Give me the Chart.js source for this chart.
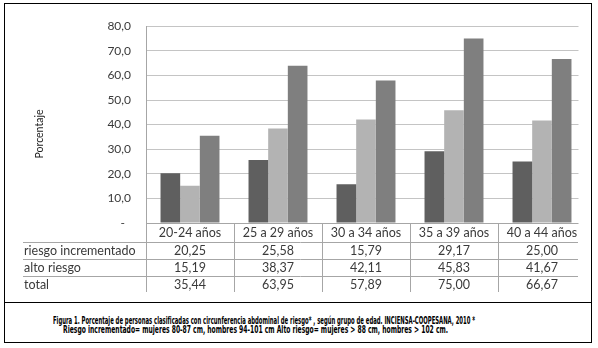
<!DOCTYPE html>
<html lang="es">
<head>
<meta charset="UTF-8">
<title>Circunferencia abdominal de riesgo por grupo de edad</title>
<script src="https://cdn.jsdelivr.net/npm/chart.js"></script>
<style>
    body {
        margin: 0;
        background: #fff;
        width: 598px;
        height: 348px;
        position: relative;
        overflow: hidden;
    }
    .box {
        position: absolute;
        left: 4px;
        top: 3px;
        width: 586px;
        height: 298px;
        border: 1px solid #000;
    }
    .chart-wrap {
        position: relative;
        width: 586px;
        height: 298px;
    }
    .caption {
        position: absolute;
        left: 4px;
        top: 302px;
        width: 586px;
        height: 40px;
        border: 1px solid #000;
        border-top: none;
    }
    .cap-line {
        position: absolute;
        white-space: nowrap;
        font-family: "Liberation Sans Narrow", "DejaVu Sans Condensed", sans-serif;
        font-weight: bold;
        font-size: 10.5px;
        line-height: 10px;
        color: #000;
        transform-origin: 0 50%;
        -webkit-font-smoothing: antialiased;
    }
</style>
</head>
<body>
<div class="box">
    <div class="chart-wrap"><canvas id="chart"></canvas></div>
</div>
<div class="caption">
    <span class="cap-line" data-w="422" style="left:48px; top:13px;">Figura 1. Porcentaje de personas clasificadas con circunferencia abdominal de riesgo* , según grupo de edad. INCIENSA-COOPESANA, 2010 *</span>
    <span class="cap-line" data-w="385" style="left:58px; top:22px;">Riesgo incrementado= mujeres 80-87 cm, hombres 94-101 cm Alto riesgo= mujeres &gt; 88 cm, hombres &gt; 102 cm.</span>
</div>

<script>
// data
const categories = ['20-24 años', '25 a 29 años', '30 a 34 años', '35 a 39 años', '40 a 44 años'];
const seriesNames = ['riesgo incrementado', 'alto riesgo', 'total'];
const riesgoIncrementado = [20.25, 25.58, 15.79, 29.17, 25.00];
const altoRiesgo = [15.19, 38.37, 42.11, 45.83, 41.67];
const total = [35.44, 63.95, 57.89, 75.00, 66.67];
const yTicks = [0, 10, 20, 30, 40, 50, 60, 70, 80];

const seriesValues = [riesgoIncrementado, altoRiesgo, total];
const seriesColors = ['#5f5f5f', '#b3b3b3', '#7f7f7f'];
const textColor = '#3a3a3a';
const lineColor = '#a6a6a6';
const fontFamily = 'Lato, "Open Sans", sans-serif';

// squeeze the caption lines to the width they have in the figure
document.querySelectorAll('.cap-line').forEach(el => {
    const w = parseFloat(el.dataset.w);
    el.style.transform = 'scaleX(' + (w / el.offsetWidth) + ')';
});

// data table under the plot + y axis title
const tablePlugin = {
    id: 'dataTable',
    beforeDatasetsDraw(chart) {
        // the plot is cut a few px before the end of the last category
        const {ctx, chartArea} = chart;
        ctx.save();
        ctx.fillStyle = '#fff';
        ctx.fillRect(chartArea.right - 7.5, chartArea.top - 2, 12, chartArea.bottom - chartArea.top + 4);
        ctx.restore();
    },
    afterDraw(chart) {
        const {ctx, chartArea, scales: {x}} = chart;
        const top = chartArea.bottom;
        const rowLines = [top + 19, top + 36, top + 53];
        const bottom = top + 69;
        const lineRight = chartArea.right - 8;
        const catW = x.getPixelForValue(1) - x.getPixelForValue(0);

        ctx.save();
        ctx.strokeStyle = lineColor;
        ctx.lineWidth = 1;
        ctx.beginPath();
        rowLines.forEach(y => {
            ctx.moveTo(18, y + 0.5);
            ctx.lineTo(lineRight, y + 0.5);
        });
        for (let i = 0; i < categories.length; i++) {
            const xl = Math.round(x.getPixelForValue(i) - catW / 2) + 0.5;
            ctx.moveTo(xl, top);
            ctx.lineTo(xl, bottom);
        }
        ctx.stroke();

        ctx.fillStyle = textColor;
        ctx.font = '12.5px ' + fontFamily;
        ctx.textBaseline = 'middle';

        // header row
        ctx.textAlign = 'center';
        categories.forEach((c, i) => {
            ctx.fillText(c, x.getPixelForValue(i), top + 10);
        });

        // series rows
        const rowCenters = [top + 28, top + 45, top + 62];
        seriesNames.forEach((name, r) => {
            ctx.textAlign = 'left';
            ctx.fillText(name, 19, rowCenters[r]);
            ctx.textAlign = 'center';
            seriesValues[r].forEach((v, i) => {
                ctx.fillText(v.toFixed(2).replace('.', ','), x.getPixelForValue(i), rowCenters[r]);
            });
        });

        // y axis title
        ctx.translate(35, 130);
        ctx.rotate(-Math.PI / 2);
        ctx.textAlign = 'center';
        ctx.fillStyle = '#222';
        ctx.font = '10.5px ' + fontFamily;
        ctx.fillText('Porcentaje', 0, 0);
        ctx.restore();
    }
};

new Chart(document.getElementById('chart'), {
    type: 'bar',
    data: {
        labels: categories,
        datasets: seriesNames.map((name, i) => ({
            label: name,
            data: seriesValues[i],
            backgroundColor: seriesColors[i],
            borderWidth: 0,
            barPercentage: 1.0,
            categoryPercentage: 0.67
        }))
    },
    options: {
        responsive: true,
        maintainAspectRatio: false,
        animation: false,
        layout: {
            padding: { top: 19, right: 5, bottom: 79, left: 0 }
        },
        plugins: {
            legend: { display: false },
            tooltip: { enabled: false }
        },
        scales: {
            x: {
                ticks: { display: false },
                grid: { display: false },
                border: { display: true, color: lineColor },
                afterFit: scale => { scale.height = 0; }
            },
            y: {
                min: 0,
                max: 80,
                afterBuildTicks: scale => {
                    scale.ticks = yTicks.map(v => ({ value: v }));
                },
                afterFit: scale => { scale.width = 141; },
                ticks: {
                    padding: 15,
                    color: textColor,
                    font: { family: fontFamily, size: 12 },
                    callback: v => v === 0 ? '-  ' : v.toFixed(1).replace('.', ',')
                },
                grid: {
                    color: '#c4c4c4',
                    drawTicks: false
                },
                border: { display: true, color: lineColor }
            }
        }
    },
    plugins: [tablePlugin]
});
</script>
</body>
</html>
